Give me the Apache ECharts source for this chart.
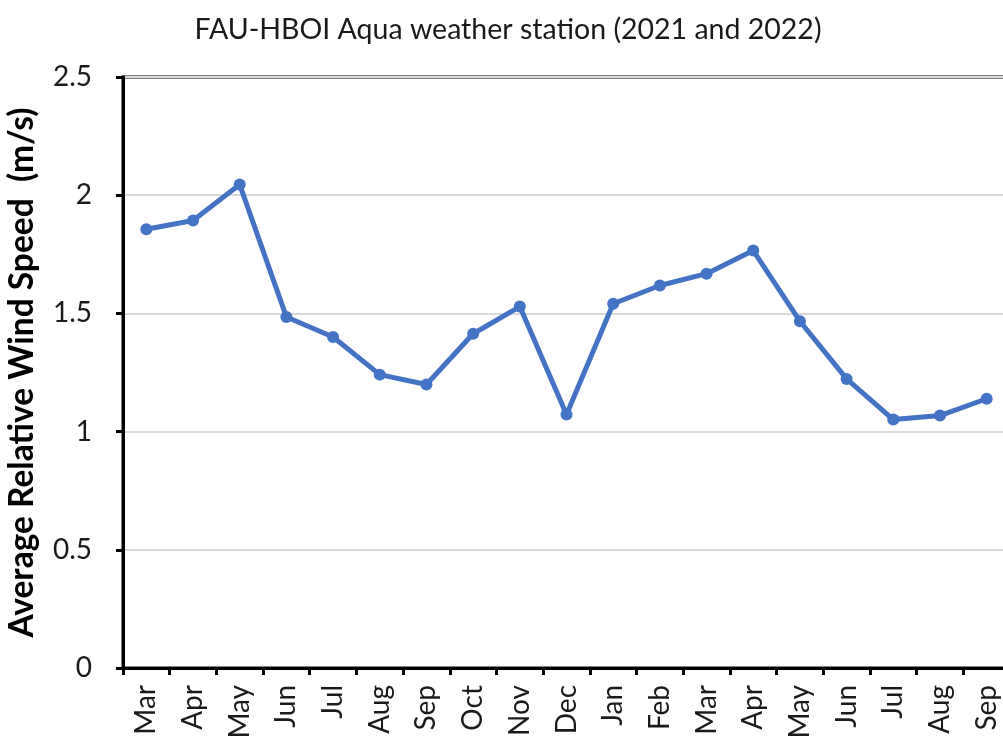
<!DOCTYPE html>
<html>
<head>
<meta charset="utf-8">
<title>FAU-HBOI Aqua weather station (2021 and 2022)</title>
<script src="https://cdn.jsdelivr.net/npm/echarts@6/dist/echarts.min.js"></script>
<style>
  html, body { margin: 0; padding: 0; background: #ffffff; }
  #chart { width: 1003px; height: 743px; }
</style>
</head>
<body>
<div id="chart"></div>
<script>
// Monthly average relative wind speed, Mar 2021 – Sep 2022
const months = ['Mar', 'Apr', 'May', 'Jun', 'Jul', 'Aug', 'Sep', 'Oct', 'Nov', 'Dec',
                'Jan', 'Feb', 'Mar', 'Apr', 'May', 'Jun', 'Jul', 'Aug', 'Sep'];
const windSpeed = [1.856, 1.893, 2.045, 1.485, 1.400, 1.241, 1.199, 1.414, 1.529, 1.072,
                   1.541, 1.618, 1.668, 1.766, 1.467, 1.223, 1.051, 1.068, 1.139];
const yTicks = { min: 0, max: 2.5, interval: 0.5 };

const FONT = 'Lato, "Open Sans", sans-serif';
const chart = echarts.init(document.getElementById('chart'), null, { renderer: 'canvas' });

chart.setOption({
  animation: false,
  backgroundColor: '#ffffff',
  title: {
    text: 'FAU-HBOI Aqua weather station (2021 and 2022)',
    left: 503,
    textAlign: 'center',
    top: 10,
    textStyle: { fontFamily: FONT, fontSize: 28.5, fontWeight: 'normal', color: '#1a1a1a' }
  },
  // the plot runs a little past the right edge of the canvas
  grid: {
    left: 123, top: 77, width: 887, height: 591,
    outerBoundsMode: 'none',
    containLabel: false,
    show: true, borderColor: '#000000', borderWidth: 3, backgroundColor: 'transparent'
  },
  xAxis: {
    type: 'category',
    data: months,
    boundaryGap: true,
    axisLine: { lineStyle: { color: '#000000', width: 3 } },
    axisTick: { show: true, interval: 0, length: 7, lineStyle: { color: '#000000', width: 3 } },
    axisLabel: {
      interval: 0, rotate: 90, margin: 17,
      fontFamily: FONT, fontSize: 28, color: '#1a1a1a'
    },
    splitLine: { show: false }
  },
  yAxis: {
    type: 'value',
    min: yTicks.min, max: yTicks.max, interval: yTicks.interval,
    name: 'Average Relative Wind Speed  (m/s)',
    nameLocation: 'middle',
    nameGap: 84,
    nameTextStyle: { fontFamily: FONT, fontSize: 33.5, fontWeight: 'bold', color: '#000000' },
    axisLine: { show: true, lineStyle: { color: '#000000', width: 3 } },
    axisTick: { show: true, length: 7, lineStyle: { color: '#000000', width: 3 } },
    axisLabel: { margin: 31, fontFamily: FONT, fontSize: 28, color: '#1a1a1a' },
    splitLine: { show: true, lineStyle: { color: '#d9d9d9', width: 2 } }
  },
  series: [{
    type: 'line',
    data: windSpeed,
    symbol: 'circle',
    symbolSize: 12,
    lineStyle: { color: '#4472c4', width: 5 },
    itemStyle: { color: '#4472c4' },
    z: 5
  }]
});
</script>
</body>
</html>
